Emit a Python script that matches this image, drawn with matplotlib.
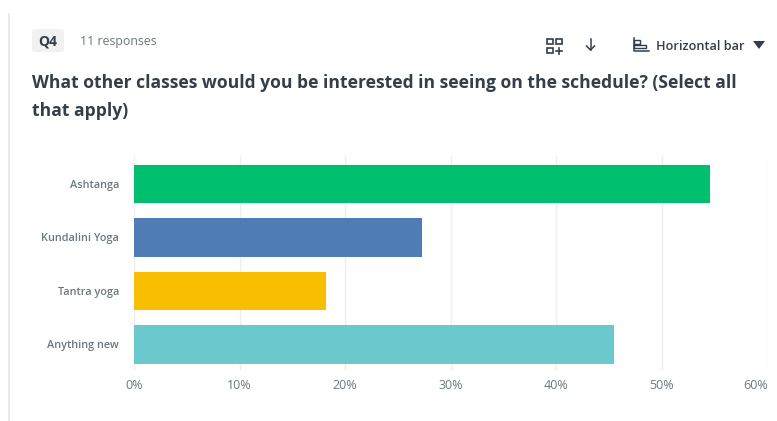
import matplotlib
matplotlib.use("Agg")
import matplotlib.pyplot as plt
from matplotlib.patches import FancyBboxPatch, Rectangle, Polygon

plt.rcParams['font.family'] = ['Open Sans', 'DejaVu Sans']

categories = ["Ashtanga", "Kundalini Yoga", "Tantra yoga", "Anything new"]
percents = [54.55, 27.27, 18.18, 45.45]
bar_colors = ['#00bf6f', '#507cb6', '#f9be00', '#6bc8cd']
x_ticks = [0, 10, 20, 30, 40, 50, 60]
x_labels = ["0%", "10%", "20%", "30%", "40%", "50%", "60%"]

W, H = 777, 421
dark = '#333e48'
grey = '#6b787f'

fig = plt.figure(figsize=(W / 100, H / 100), dpi=100)

# pixel overlay for the page furniture
page = fig.add_axes([0, 0, 1, 1])
page.set_xlim(0, W)
page.set_ylim(H, 0)
page.axis('off')

page.plot([8.5, 8.5], [14, H], color='#e4e6e7', lw=1.2)
page.add_patch(FancyBboxPatch((32, 29), 32, 23, boxstyle="round,pad=0,rounding_size=3",
                              fc='#eff1f2', ec='none'))
page.text(48, 41, "Q4", fontsize=10, fontweight='bold', color=dark, ha='center', va='center')
page.text(80, 41, "11 responses", fontsize=8.9, color=grey, va='center')
page.text(32, 82.5, "What other classes would you be interested in seeing on the schedule? (Select all",
          fontsize=12.65, fontweight='bold', color=dark, va='center')
page.text(32, 110.5, "that apply)", fontsize=12.65, fontweight='bold', color=dark, va='center')

# add-to-dashboard icon
for x0, y0 in [(547, 39), (556, 39), (547, 48)]:
    page.add_patch(Rectangle((x0, y0), 6, 5, fc='none', ec=dark, lw=1.2))
page.plot([556, 562], [50.5, 50.5], color=dark, lw=1.2)
page.plot([559, 559], [47.5, 53.5], color=dark, lw=1.2)

# download arrow
page.plot([590.5, 590.5], [39, 50], color=dark, lw=1.1)
page.plot([586.5, 590.5, 594.5], [46, 50, 46], color=dark, lw=1.1)

# chart type icon
page.plot([634, 634, 649], [38, 51, 51], color=dark, lw=1.1)
page.add_patch(Rectangle((634, 40), 6, 3.5, fc='none', ec=dark, lw=1))
page.add_patch(Rectangle((634, 44.5), 12, 3.5, fc='none', ec=dark, lw=1))
page.text(656, 46, "Horizontal bar", fontsize=9.2, fontweight='semibold', color=dark, va='center')
page.add_patch(Polygon([[753, 41], [765, 41], [759, 49]], fc=dark, ec='none'))

# chart
left, right, top, bottom = 134, 767.6, 156, 371
ax = fig.add_axes([left / W, 1 - bottom / H, (right - left) / W, (bottom - top) / H])
ax.patch.set_alpha(0)
ax.barh(categories, percents, height=0.72, color=bar_colors, zorder=2)
ax.set_xlim(0, 60)
ax.set_ylim(3.5, -0.52)
ax.set_xticks(x_ticks)
ax.set_xticklabels(x_labels)
ax.grid(axis='x', color='#eceeef', lw=1, zorder=0)
ax.tick_params(axis='x', length=0, pad=6, labelsize=9, labelcolor=grey)
ax.tick_params(axis='y', length=0, pad=10.8, labelsize=7.8, labelcolor=grey)
for label in ax.get_yticklabels():
    label.set_fontweight('semibold')
for label in ax.get_xticklabels():
    label.set_fontweight('medium')
for spine in ax.spines.values():
    spine.set_visible(False)
ax.get_xticklabels()[-1].set_horizontalalignment('right')

fig.savefig("out.png", dpi=100)
